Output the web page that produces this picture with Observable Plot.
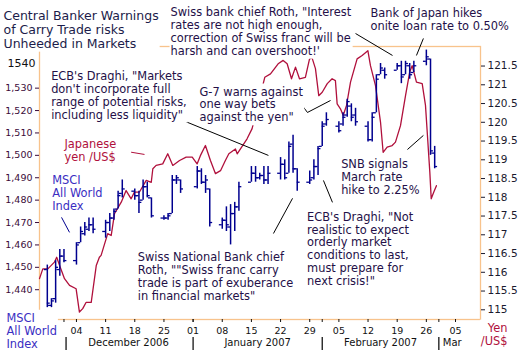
<!DOCTYPE html>
<html>
<head>
<meta charset="utf-8">
<script src="https://cdn.jsdelivr.net/npm/d3@7"></script>
<script src="https://cdn.jsdelivr.net/npm/@observablehq/plot@0.6"></script>
<style>
  html, body { margin: 0; padding: 0; background: #fff; }
  svg { display: block; }
</style>
</head>
<body>
<div id="chart"></div>
<script>
// ---------- MSCI All World Index (daily high/low bars with open/close ticks) ----------
const msciDates = [
  "2006-11-27","2006-11-28","2006-11-29","2006-11-30","2006-12-01",
  "2006-12-04","2006-12-05","2006-12-06","2006-12-07","2006-12-08",
  "2006-12-11","2006-12-12","2006-12-13","2006-12-14","2006-12-15",
  "2006-12-18","2006-12-19","2006-12-20","2006-12-21","2006-12-22",
  "2006-12-25","2006-12-26","2006-12-27","2006-12-28","2006-12-29",
  "2007-01-02","2007-01-03","2007-01-04","2007-01-05",
  "2007-01-08","2007-01-09","2007-01-10","2007-01-11","2007-01-12",
  "2007-01-15","2007-01-16","2007-01-17","2007-01-18","2007-01-19",
  "2007-01-22","2007-01-23","2007-01-24","2007-01-25","2007-01-26",
  "2007-01-29","2007-01-30","2007-01-31","2007-02-01","2007-02-02",
  "2007-02-05","2007-02-06","2007-02-07","2007-02-08","2007-02-09",
  "2007-02-12","2007-02-13","2007-02-14","2007-02-15","2007-02-16",
  "2007-02-19","2007-02-20","2007-02-21","2007-02-22","2007-02-23",
  "2007-02-26","2007-02-27","2007-02-28"
];
const msciOpen = [
  1449,1433,1436,1449,1455, 1453,1461,1465,1467,1469, 1466,1470,1472,1476,1483,
  1484,1482,1480,1486,1481, 1472,1472,1474,1489,1489, 1486,1493,1488,1485,
  1469,1471,1468,1474,1477, 1488,1492,1490,1491,1489, 1492,1496,1492,1505,1494,
  1488,1490,1495,1504,1514, 1513,1514,1518,1522,1518, 1513,1507,1519,1536,1538,
  1538,1540,1536,1540,1537, 1542,1543,1501
];
const msciHigh = [
  1451,1436,1453,1458,1458, 1461,1468,1470,1472,1472, 1471,1474,1476,1484,1489,
  1485,1484,1489,1488,1481, 1473,1474,1491,1491,1489, 1495,1494,1491,1485,
  1472,1477,1478,1479,1488, 1495,1495,1492,1495,1495, 1499,1498,1506,1509,1494,
  1493,1498,1504,1515,1519, 1515,1519,1525,1523,1521, 1515,1519,1536,1541,1539,
  1541,1542,1542,1541,1542, 1547,1543,1504
];
const msciLow = [
  1432,1432,1434,1446,1452, 1451,1461,1464,1466,1465, 1463,1466,1471,1476,1481,
  1480,1474,1480,1481,1472, 1471,1471,1474,1487,1483, 1485,1487,1483,1468,
  1467,1466,1460,1466,1475, 1488,1488,1489,1487,1487, 1489,1489,1492,1492,1484,
  1487,1489,1491,1504,1513, 1510,1513,1517,1515,1513, 1506,1506,1519,1536,1534,
  1538,1532,1536,1534,1537, 1540,1500,1494
];
const msciClose = [
  1434,1435,1450,1455,1453, 1460,1466,1468,1469,1467, 1470,1472,1475,1482,1485,
  1482,1479,1486,1482,1473, 1472,1473,1489,1490,1485, 1493,1488,1489,1470,
  1471,1469,1474,1477,1486, 1492,1490,1491,1489,1492, 1496,1490,1504,1494,1488,
  1489,1495,1503,1513,1516, 1511,1517,1524,1517,1515, 1507,1517,1534,1539,1536,
  1540,1535,1541,1536,1540, 1544,1502,1495
];

// ---------- Japanese yen per US$ ----------
const yenTimes = [
  "2006-11-25T03","2006-11-25T22","2006-11-27T03","2006-11-28T17","2006-11-29T06",
  "2006-11-30T02","2006-12-01T03","2006-12-02T08","2006-12-03T22","2006-12-04T17",
  "2006-12-05T12","2006-12-06T08","2006-12-07T13","2006-12-08T18","2006-12-09T12",
  "2006-12-09T22","2006-12-11T12","2006-12-12T08","2006-12-13T03","2006-12-14T18",
  "2006-12-15T22","2006-12-17T03","2006-12-17T22","2006-12-19T03","2006-12-20T18",
  "2006-12-21T23","2006-12-22T08","2006-12-23T03","2006-12-24T17","2006-12-25T22",
  "2006-12-27T03","2006-12-28T18","2006-12-30T08","2006-12-31T19","2007-01-01T23",
  "2007-01-02T18","2007-01-03T23","2007-01-05T04","2007-01-06T09","2007-01-07T14",
  "2007-01-08T18","2007-01-09T14","2007-01-11T04","2007-01-11T14","2007-01-13T23",
  "2007-01-15T04","2007-01-18T05","2007-01-19T14","2007-01-21T10","2007-01-22T15",
  "2007-01-23T14","2007-01-24T15","2007-01-25T14","2007-01-26T13","2007-01-27T23",
  "2007-01-28T23","2007-01-29T14","2007-01-30T09","2007-01-31T04","2007-02-01T00",
  "2007-02-02T05","2007-02-03T09","2007-02-04T04","2007-02-04T14","2007-02-05T09",
  "2007-02-06T01","2007-02-06T20","2007-02-07T19","2007-02-09T09","2007-02-10T14",
  "2007-02-11T23","2007-02-12T14","2007-02-13T19","2007-02-15T00","2007-02-15T15",
  "2007-02-16T14","2007-02-17T19","2007-02-18T14","2007-02-19T19","2007-02-21T00",
  "2007-02-22T00","2007-02-22T14","2007-02-23T00","2007-02-23T15","2007-02-25T00",
  "2007-02-25T19","2007-02-26T05","2007-02-26T20","2007-02-27T04","2007-02-27T19",
  "2007-02-28T10"
];
const yenValues = [
  115.83,116.09,116.09,116.27,116.40, 116.14,115.83,115.65,115.56,114.94,
  115.03,115.20,115.20,116.18,116.40, 116.45,117.03,116.98,117.56,117.87,
  118.18,117.96,118.14,118.14,118.45, 118.40,118.76,118.85,118.89,119.16,
  118.85,118.98,119.07,119.07,118.89, 119.11,119.38,118.98,118.63,118.71,
  118.98,119.16,119.29,119.16,119.56, 119.83,121.20,121.29,121.56,121.65,
  121.56,121.16,121.47,121.16,121.20, 121.69,121.71,121.43,120.71,120.80,
  121.03,121.16,121.11,120.49,120.36, 120.18,120.45,121.07,121.69,121.78,
  121.91,121.51,120.98,120.00,119.20, 119.34,119.38,119.47,119.91,120.71,
  121.34,121.51,121.34,121.07,121.03, 120.45,119.74,118.67,117.96,118.14,
  118.31
];

// ---------- axes ----------
const msciTicks = [1440,1450,1460,1470,1480,1490,1500,1510,1520,1530];
const msciTopLabel = [1540];
const yenTicks = [115,115.5,116,116.5,117,117.5,118,118.5,119,119.5,120,120.5,121,121.5];
const weekTicks = ["2006-12-04","2006-12-11","2006-12-18","2006-12-25","2007-01-01","2007-01-08",
  "2007-01-15","2007-01-22","2007-01-29","2007-02-05","2007-02-12","2007-02-19","2007-02-26","2007-03-05"];
const monthStarts = ["2006-12-01","2007-01-01","2007-02-01","2007-03-01","2007-04-01"];
const monthLabels = ["December 2006","January 2007","February 2007","Mar"];

// ---------- text ----------
const titleText = "Central Banker Warnings\nof Carry Trade risks\nUnheeded in Markets";
const noteTexts = [
  "ECB's Draghi, \"Markets\ndon't incorporate full\nrange of potential risks,\nincluding less liquidity\"",
  "Swiss bank chief Roth, \"Interest\nrates are not high enough,\ncorrection of Swiss franc will be\nharsh and can overshoot!'",
  "Bank of Japan hikes\nonite loan rate to 0.50%",
  "G-7 warns against\none way bets\nagainst the yen\"",
  "SNB signals\nMarch rate\nhike to 2.25%",
  "ECB's Draghi, \"Not\nrealistic to expect\norderly market\nconditions to last,\nmust prepare for\nnext crisis!\"",
  "Swiss National Bank chief\nRoth, \"\"Swiss franc carry\ntrade is part of exuberance\nin financial markets\""
];
const noteDates = ["2006-11-27T22","2006-12-26T14","2007-02-12T14","2007-01-02T13","2007-02-05T13","2007-01-28T09","2006-12-18T17"];
const noteValues = [1526.9, 1555.4, 1560.8, 1522.8, 1490.5, 1458.3, 1445.9];

const yenLabel = "Japanese\nyen /US$";
const yenLabelDate = "2006-12-01T03";
const yenLabelValue = 1502.3;
const msciLabel = "MSCI\nAll World\nIndex";
const msciLabelDate = "2006-11-28T04";
const msciLabelValue = 1483.4;
const msciAxisTitle = "MSCI\nAll World\nIndex";
const yenAxisTitle = "Yen\n/US$";

// leader lines (date, value) pairs
const leaderFromDate = ["2006-12-30T04","2007-01-26T07","2007-01-28T11","2007-02-09T00","2007-02-25T07","2007-02-21T11","2007-02-01T07","2007-01-20T07"];
const leaderFromValue = [1515.1, 1524.5, 1519.15, 1554.4, 1552.2, 1502.6, 1488.8, 1465.1];
const leaderToDate   = ["2007-01-19T02","2007-01-28T11","2007-02-03T00","2007-02-17T21","2007-02-23T15","2007-02-25T07","2007-02-03T11","2007-01-24T21"];
const leaderToValue  = [1499.96, 1519.15, 1524.5, 1544.6, 1544.6, 1508.9, 1479.0, 1480.8];
const msciLeader = {from: ["2006-11-30T10", 1472.3], to: ["2006-12-02T08", 1465.6]};
const yenLeader = {from: ["2006-12-17T03", 1501.4], to: ["2006-12-20T08", 1500.4]};

// ---------- build ----------
const parse = s => new Date(s.length <= 10 ? s + "T00:00Z" : s + ":00Z");
const msciDomain = [1426.7, 1548.6];
const yenDomain = [114.741, 122.021];
const xDomain = [parse("2006-11-25T03"), parse("2007-03-11")];
const yenToLeft = d3.scaleLinear().domain(yenDomain).range(msciDomain);

const bars = msciDates.map((d, i) => ({date: parse(d), open: msciOpen[i], high: msciHigh[i], low: msciLow[i], close: msciClose[i]}));
const yen = yenTimes.map((t, i) => ({date: parse(t), v: yenToLeft(yenValues[i])}));
const leaders = leaderFromDate.map((d, i) => ({x1: parse(d), y1: leaderFromValue[i], x2: parse(leaderToDate[i]), y2: leaderToValue[i]}));
const months = monthStarts.map(parse);
const monthMid = monthLabels.map((l, i) => new Date((+months[i] + +months[i + 1]) / 2));
const shift = (date, days) => new Date(+date + days * 864e5);

const navy = "#00008f";
const crimson = "#b0103c";
const tan = "#f8c38c";
const noteColor = "#241048";
const font = "'DejaVu Sans', Verdana, sans-serif";
const commaFmt = d3.format(",");

const chart = Plot.plot({
  width: 523,
  height: 355,
  marginLeft: 39,
  marginRight: 43,
  marginTop: 46,
  marginBottom: 36,
  x: {type: "utc", domain: xDomain, axis: null},
  y: {domain: msciDomain, axis: null},
  style: {fontFamily: font, background: "white", overflow: "visible"},
  marks: [
    Plot.frame({stroke: tan, strokeWidth: 1.3}),
    // left axis
    Plot.axisY({ticks: msciTicks, tickFormat: d => commaFmt(d), tickSize: 4, tickPadding: 3, fontSize: 9.5, color: "#3a0c3a"}),
    Plot.axisY({ticks: msciTopLabel, tickFormat: d => String(d), tickSize: 0, tickPadding: 4, fontSize: 11, color: "#111", dy: -2}),
    // right axis (yen)
    Plot.axisY({anchor: "right", ticks: yenTicks.map(yenToLeft),
      tickFormat: d => String(Math.round(yenToLeft.invert(d) * 10) / 10),
      tickSize: 4, tickPadding: 3, fontSize: 10.5, color: "#1a1a2e"}),
    // bottom axis
    Plot.axisX({ticks: weekTicks.map(parse), tickFormat: d3.utcFormat("%d"), tickSize: 3, tickPadding: 5, fontSize: 9.5, color: "#111"}),
    Plot.ruleX(months.slice(0, 4), {insetTop: 273, insetBottom: -3, stroke: "#111"}),
    Plot.ruleX(months.slice(1, 4), {insetTop: 291, insetBottom: -31, stroke: "#000", strokeWidth: 1.2}),
    Plot.ruleX(months.slice(0, 1), {x: d => shift(d, 0.5), insetTop: 291, insetBottom: -31, stroke: "#000", strokeWidth: 1.2}),
    Plot.text(monthLabels.slice(0, 3), {x: (d, i) => monthMid[i], text: d => d, frameAnchor: "bottom", dy: 26, fontSize: 10, fill: "#111"}),
    Plot.text(monthLabels.slice(3), {x: () => months[3], text: d => d, frameAnchor: "bottom", dy: 26, dx: 4, textAnchor: "start", fontSize: 10, fill: "#111"}),
    // data
    Plot.line(yen, {x: "date", y: "v", stroke: crimson, strokeWidth: 1.3}),
    Plot.ruleX(bars, {x: "date", y1: "low", y2: "high", stroke: navy, strokeWidth: 1.5}),
    Plot.ruleY(bars, {y: "open", x1: d => shift(d.date, -0.7), x2: "date", stroke: navy, strokeWidth: 1.3}),
    Plot.ruleY(bars, {y: "close", x1: "date", x2: d => shift(d.date, 0.7), stroke: navy, strokeWidth: 1.3}),
    // leaders
    Plot.link(leaders, {x1: "x1", y1: "y1", x2: "x2", y2: "y2", stroke: "#000", strokeWidth: 1}),
    Plot.link([msciLeader], {x1: d => parse(d.from[0]), y1: d => d.from[1], x2: d => parse(d.to[0]), y2: d => d.to[1], stroke: navy, strokeWidth: 1}),
    Plot.link([yenLeader], {x1: d => parse(d.from[0]), y1: d => d.from[1], x2: d => parse(d.to[0]), y2: d => d.to[1], stroke: crimson, strokeWidth: 1}),
    // annotations
    Plot.text(noteTexts, {x: (d, i) => parse(noteDates[i]), y: (d, i) => noteValues[i], text: d => d,
      textAnchor: "start", lineAnchor: "middle", lineHeight: 1.13, fontSize: 11.4, fill: noteColor}),
    Plot.text([yenLabel], {x: () => parse(yenLabelDate), y: () => yenLabelValue, text: d => d,
      textAnchor: "start", lineAnchor: "middle", lineHeight: 1.12, fontSize: 11.4, fill: crimson}),
    Plot.text([msciLabel], {x: () => parse(msciLabelDate), y: () => msciLabelValue, text: d => d,
      textAnchor: "start", lineAnchor: "middle", lineHeight: 1.14, fontSize: 11.4, fill: "#3a2ec2"}),
    // title and axis titles
    Plot.text([titleText], {frameAnchor: "top-left", dx: -36, dy: -17.3, text: d => d, textAnchor: "start",
      lineAnchor: "middle", lineHeight: 1.12, fontSize: 12.5, fill: "#1c1c4a"}),
    Plot.text([msciAxisTitle], {frameAnchor: "bottom-left", dx: -33, dy: 11, text: d => d, textAnchor: "start",
      lineAnchor: "middle", lineHeight: 1.13, fontSize: 11.4, fill: "#3a2ec2"}),
    Plot.text([yenAxisTitle], {frameAnchor: "bottom-right", dx: 27, dy: 14.5, text: d => d, textAnchor: "end",
      lineAnchor: "middle", lineHeight: 1.13, fontSize: 11.4, fill: crimson})
  ]
});

document.getElementById("chart").append(chart);

// white boxes behind text blocks (they hide the frame/lines underneath, as in the original)
chart.querySelectorAll('g[aria-label="text"] text').forEach(t => {
  const b = t.getBBox();
  if (!b.width) return;
  const r = document.createElementNS("http://www.w3.org/2000/svg", "rect");
  r.setAttribute("x", b.x - 1);
  r.setAttribute("y", b.y - 1);
  r.setAttribute("width", b.width + 2);
  r.setAttribute("height", b.height + 2);
  r.setAttribute("fill", "white");
  r.setAttribute("stroke", "none");
  const tr = t.getAttribute("transform");
  if (tr) r.setAttribute("transform", tr);
  t.parentNode.insertBefore(r, t);
});
</script>
</body>
</html>
